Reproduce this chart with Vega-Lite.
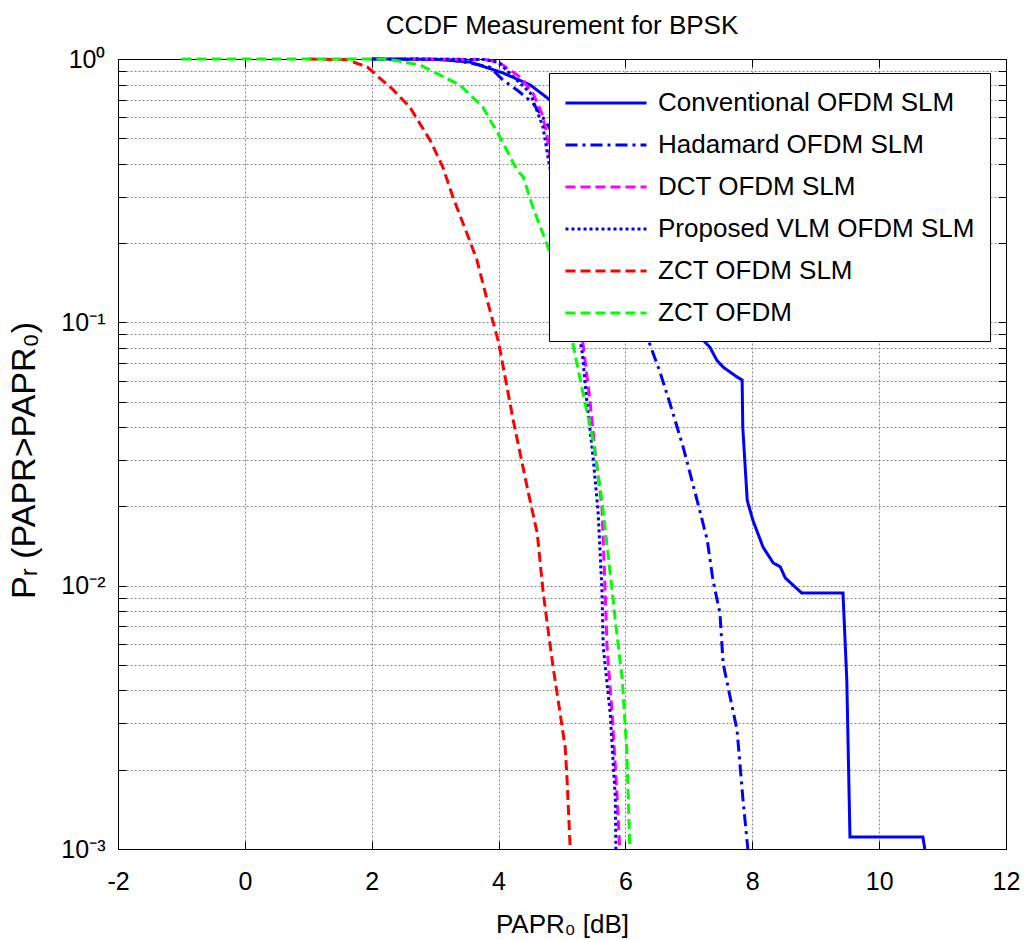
{
  "$schema": "https://vega.github.io/schema/vega-lite/v6.json",
  "width": 888,
  "height": 790,
  "autosize": {"type": "none"},
  "padding": {"left": 118, "top": 59, "right": 19, "bottom": 91},
  "background": "white",
  "title": {"text": "CCDF Measurement for BPSK", "font": "Liberation Sans", "fontSize": 26, "fontWeight": "normal", "color": "black", "anchor": "middle", "baseline": "alphabetic", "offset": 9, "dy": 22},
  "config": {
    "view": {"stroke": "black", "strokeWidth": 1},
    "axis": {
      "domainColor": "black", "domainWidth": 1, "tickColor": "black", "tickSize": -8,
      "labelFont": "Liberation Sans", "labelFontSize": 25, "labelColor": "black", "labelFlush": false, "labelOverlap": false,
      "titleFont": "Liberation Sans", "titleFontWeight": "normal", "titleColor": "black",
      "gridColor": "#555555", "gridDash": [2, 2], "gridOpacity": 0.7, "gridWidth": 1
    }
  },
  "data": {"values": [
    {"s": "Conventional OFDM SLM", "x": 2.0, "y": 1.0},
    {"s": "Conventional OFDM SLM", "x": 3.0, "y": 0.998},
    {"s": "Conventional OFDM SLM", "x": 3.55, "y": 0.974},
    {"s": "Conventional OFDM SLM", "x": 4.07, "y": 0.885},
    {"s": "Conventional OFDM SLM", "x": 4.5, "y": 0.797},
    {"s": "Conventional OFDM SLM", "x": 4.81, "y": 0.699},
    {"s": "Conventional OFDM SLM", "x": 5.5, "y": 0.45},
    {"s": "Conventional OFDM SLM", "x": 6.2, "y": 0.25},
    {"s": "Conventional OFDM SLM", "x": 6.8, "y": 0.13},
    {"s": "Conventional OFDM SLM", "x": 7.22, "y": 0.0857},
    {"s": "Conventional OFDM SLM", "x": 7.33, "y": 0.0806},
    {"s": "Conventional OFDM SLM", "x": 7.44, "y": 0.0719},
    {"s": "Conventional OFDM SLM", "x": 7.54, "y": 0.0676},
    {"s": "Conventional OFDM SLM", "x": 7.76, "y": 0.062},
    {"s": "Conventional OFDM SLM", "x": 7.84, "y": 0.0604},
    {"s": "Conventional OFDM SLM", "x": 7.85, "y": 0.040},
    {"s": "Conventional OFDM SLM", "x": 7.92, "y": 0.0211},
    {"s": "Conventional OFDM SLM", "x": 8.01, "y": 0.0177},
    {"s": "Conventional OFDM SLM", "x": 8.17, "y": 0.014},
    {"s": "Conventional OFDM SLM", "x": 8.33, "y": 0.0122},
    {"s": "Conventional OFDM SLM", "x": 8.44, "y": 0.0118},
    {"s": "Conventional OFDM SLM", "x": 8.52, "y": 0.0107},
    {"s": "Conventional OFDM SLM", "x": 8.78, "y": 0.00937},
    {"s": "Conventional OFDM SLM", "x": 9.43, "y": 0.00937},
    {"s": "Conventional OFDM SLM", "x": 9.49, "y": 0.00438},
    {"s": "Conventional OFDM SLM", "x": 9.54, "y": 0.00111},
    {"s": "Conventional OFDM SLM", "x": 10.69, "y": 0.00111},
    {"s": "Conventional OFDM SLM", "x": 10.72, "y": 0.001},

    {"s": "Hadamard OFDM SLM", "x": 2.0, "y": 1.0},
    {"s": "Hadamard OFDM SLM", "x": 3.2, "y": 0.995},
    {"s": "Hadamard OFDM SLM", "x": 3.5, "y": 0.97},
    {"s": "Hadamard OFDM SLM", "x": 3.86, "y": 0.932},
    {"s": "Hadamard OFDM SLM", "x": 4.07, "y": 0.832},
    {"s": "Hadamard OFDM SLM", "x": 4.29, "y": 0.763},
    {"s": "Hadamard OFDM SLM", "x": 4.54, "y": 0.681},
    {"s": "Hadamard OFDM SLM", "x": 4.76, "y": 0.571},
    {"s": "Hadamard OFDM SLM", "x": 5.3, "y": 0.33},
    {"s": "Hadamard OFDM SLM", "x": 5.9, "y": 0.16},
    {"s": "Hadamard OFDM SLM", "x": 6.36, "y": 0.0857},
    {"s": "Hadamard OFDM SLM", "x": 6.55, "y": 0.0642},
    {"s": "Hadamard OFDM SLM", "x": 6.7, "y": 0.0494},
    {"s": "Hadamard OFDM SLM", "x": 6.91, "y": 0.0336},
    {"s": "Hadamard OFDM SLM", "x": 7.13, "y": 0.0211},
    {"s": "Hadamard OFDM SLM", "x": 7.29, "y": 0.0149},
    {"s": "Hadamard OFDM SLM", "x": 7.38, "y": 0.0105},
    {"s": "Hadamard OFDM SLM", "x": 7.49, "y": 0.00787},
    {"s": "Hadamard OFDM SLM", "x": 7.54, "y": 0.00508},
    {"s": "Hadamard OFDM SLM", "x": 7.65, "y": 0.00378},
    {"s": "Hadamard OFDM SLM", "x": 7.76, "y": 0.00283},
    {"s": "Hadamard OFDM SLM", "x": 7.85, "y": 0.00157},
    {"s": "Hadamard OFDM SLM", "x": 7.93, "y": 0.001},

    {"s": "DCT OFDM SLM", "x": 2.6, "y": 1.0},
    {"s": "DCT OFDM SLM", "x": 3.8, "y": 0.995},
    {"s": "DCT OFDM SLM", "x": 4.02, "y": 0.966},
    {"s": "DCT OFDM SLM", "x": 4.34, "y": 0.854},
    {"s": "DCT OFDM SLM", "x": 4.54, "y": 0.743},
    {"s": "DCT OFDM SLM", "x": 4.68, "y": 0.623},
    {"s": "DCT OFDM SLM", "x": 4.76, "y": 0.524},
    {"s": "DCT OFDM SLM", "x": 4.79, "y": 0.451},
    {"s": "DCT OFDM SLM", "x": 4.95, "y": 0.28},
    {"s": "DCT OFDM SLM", "x": 5.15, "y": 0.14},
    {"s": "DCT OFDM SLM", "x": 5.33, "y": 0.0834},
    {"s": "DCT OFDM SLM", "x": 5.44, "y": 0.0507},
    {"s": "DCT OFDM SLM", "x": 5.52, "y": 0.0327},
    {"s": "DCT OFDM SLM", "x": 5.63, "y": 0.0199},
    {"s": "DCT OFDM SLM", "x": 5.68, "y": 0.0096},
    {"s": "DCT OFDM SLM", "x": 5.71, "y": 0.00585},
    {"s": "DCT OFDM SLM", "x": 5.79, "y": 0.00328},
    {"s": "DCT OFDM SLM", "x": 5.87, "y": 0.00157},
    {"s": "DCT OFDM SLM", "x": 5.91, "y": 0.001},

    {"s": "Proposed VLM OFDM SLM", "x": 2.6, "y": 1.0},
    {"s": "Proposed VLM OFDM SLM", "x": 3.8, "y": 0.995},
    {"s": "Proposed VLM OFDM SLM", "x": 4.0, "y": 0.97},
    {"s": "Proposed VLM OFDM SLM", "x": 4.5, "y": 0.743},
    {"s": "Proposed VLM OFDM SLM", "x": 4.7, "y": 0.552},
    {"s": "Proposed VLM OFDM SLM", "x": 4.78, "y": 0.424},
    {"s": "Proposed VLM OFDM SLM", "x": 4.95, "y": 0.25},
    {"s": "Proposed VLM OFDM SLM", "x": 5.15, "y": 0.13},
    {"s": "Proposed VLM OFDM SLM", "x": 5.32, "y": 0.0764},
    {"s": "Proposed VLM OFDM SLM", "x": 5.39, "y": 0.0507},
    {"s": "Proposed VLM OFDM SLM", "x": 5.49, "y": 0.0308},
    {"s": "Proposed VLM OFDM SLM", "x": 5.57, "y": 0.0189},
    {"s": "Proposed VLM OFDM SLM", "x": 5.63, "y": 0.0096},
    {"s": "Proposed VLM OFDM SLM", "x": 5.65, "y": 0.00585},
    {"s": "Proposed VLM OFDM SLM", "x": 5.76, "y": 0.00328},
    {"s": "Proposed VLM OFDM SLM", "x": 5.84, "y": 0.00157},
    {"s": "Proposed VLM OFDM SLM", "x": 5.85, "y": 0.001},

    {"s": "ZCT OFDM SLM", "x": 1.0, "y": 1.0},
    {"s": "ZCT OFDM SLM", "x": 1.6, "y": 0.995},
    {"s": "ZCT OFDM SLM", "x": 1.93, "y": 0.932},
    {"s": "ZCT OFDM SLM", "x": 2.34, "y": 0.763},
    {"s": "ZCT OFDM SLM", "x": 2.6, "y": 0.657},
    {"s": "ZCT OFDM SLM", "x": 2.92, "y": 0.492},
    {"s": "ZCT OFDM SLM", "x": 3.12, "y": 0.389},
    {"s": "ZCT OFDM SLM", "x": 3.28, "y": 0.299},
    {"s": "ZCT OFDM SLM", "x": 3.5, "y": 0.218},
    {"s": "ZCT OFDM SLM", "x": 3.66, "y": 0.172},
    {"s": "ZCT OFDM SLM", "x": 3.82, "y": 0.1215},
    {"s": "ZCT OFDM SLM", "x": 4.0, "y": 0.084},
    {"s": "ZCT OFDM SLM", "x": 4.23, "y": 0.0426},
    {"s": "ZCT OFDM SLM", "x": 4.45, "y": 0.0237},
    {"s": "ZCT OFDM SLM", "x": 4.61, "y": 0.0158},
    {"s": "ZCT OFDM SLM", "x": 4.7, "y": 0.0096},
    {"s": "ZCT OFDM SLM", "x": 4.76, "y": 0.0074},
    {"s": "ZCT OFDM SLM", "x": 4.86, "y": 0.0049},
    {"s": "ZCT OFDM SLM", "x": 4.97, "y": 0.00328},
    {"s": "ZCT OFDM SLM", "x": 5.05, "y": 0.00244},
    {"s": "ZCT OFDM SLM", "x": 5.08, "y": 0.00183},
    {"s": "ZCT OFDM SLM", "x": 5.13, "y": 0.001},

    {"s": "ZCT OFDM", "x": -1.0, "y": 1.0},
    {"s": "ZCT OFDM", "x": 2.2, "y": 1.0},
    {"s": "ZCT OFDM", "x": 2.4, "y": 0.985},
    {"s": "ZCT OFDM", "x": 2.76, "y": 0.949},
    {"s": "ZCT OFDM", "x": 3.39, "y": 0.797},
    {"s": "ZCT OFDM", "x": 3.75, "y": 0.657},
    {"s": "ZCT OFDM", "x": 4.02, "y": 0.506},
    {"s": "ZCT OFDM", "x": 4.29, "y": 0.379},
    {"s": "ZCT OFDM", "x": 4.39, "y": 0.356},
    {"s": "ZCT OFDM", "x": 4.54, "y": 0.274},
    {"s": "ZCT OFDM", "x": 4.78, "y": 0.193},
    {"s": "ZCT OFDM", "x": 5.05, "y": 0.105},
    {"s": "ZCT OFDM", "x": 5.17, "y": 0.0834},
    {"s": "ZCT OFDM", "x": 5.33, "y": 0.0539},
    {"s": "ZCT OFDM", "x": 5.49, "y": 0.0357},
    {"s": "ZCT OFDM", "x": 5.63, "y": 0.0211},
    {"s": "ZCT OFDM", "x": 5.79, "y": 0.0096},
    {"s": "ZCT OFDM", "x": 5.84, "y": 0.0074},
    {"s": "ZCT OFDM", "x": 5.95, "y": 0.0044},
    {"s": "ZCT OFDM", "x": 6.02, "y": 0.0024},
    {"s": "ZCT OFDM", "x": 6.07, "y": 0.001}
  ]},
  "layer": [
    {
      "mark": {"type": "line", "strokeWidth": 3, "clip": false},
      "encoding": {
        "x": {"field": "x", "type": "quantitative",
          "scale": {"domain": [-2, 12], "nice": false, "zero": false},
          "axis": {"values": [-2, 0, 2, 4, 6, 8, 10, 12], "grid": true, "labelPadding": 28,
            "labelExpr": "datum.value < 0 ? '-' + abs(datum.value) : '' + datum.value",
            "title": "PAPR₀ [dB]", "titleFontSize": 26, "titleY": 83, "titleBaseline": "alphabetic"}},
        "y": {"field": "y", "type": "quantitative",
          "scale": {"type": "log", "domain": [0.001, 1], "nice": false},
          "axis": {"values": [0.001, 0.002, 0.003, 0.004, 0.005, 0.006, 0.007, 0.008, 0.009, 0.01, 0.02, 0.03, 0.04, 0.05, 0.06, 0.07, 0.08, 0.09, 0.1, 0.2, 0.3, 0.4, 0.5, 0.6, 0.7, 0.8, 0.9, 1],
            "labelExpr": "datum.value == 1 ? '10⁰' : datum.value == 0.1 ? '10⁻¹' : datum.value == 0.01 ? '10⁻²' : datum.value == 0.001 ? '10⁻³' : ''",
            "grid": true, "labelPadding": 21, "labelBaseline": "middle",
            "title": "Pᵣ (PAPR>PAPR₀)", "titleFontSize": 34, "titleAngle": -90, "titleX": -84, "titleY": 401, "titleBaseline": "alphabetic", "titleAlign": "center"}},
        "color": {"field": "s", "type": "nominal",
          "scale": {"domain": ["Conventional OFDM SLM", "Hadamard OFDM SLM", "DCT OFDM SLM", "Proposed VLM OFDM SLM", "ZCT OFDM SLM", "ZCT OFDM"],
                    "range": ["#0000ff", "#0000ff", "#ff00ff", "#0000ff", "#ff0000", "#00ff00"]},
          "legend": {"title": null, "orient": "none", "legendX": 431, "legendY": 14, "fillColor": "white", "strokeColor": "black", "padding": 15,
            "labelFont": "Liberation Sans", "labelFontSize": 26, "labelColor": "black", "labelLimit": 600, "labelOffset": 64,
            "symbolType": "M-1,0H5", "symbolSize": 729, "symbolStrokeWidth": 3, "rowPadding": 14}},
        "strokeDash": {"field": "s", "type": "nominal",
          "scale": {"domain": ["Conventional OFDM SLM", "Hadamard OFDM SLM", "DCT OFDM SLM", "Proposed VLM OFDM SLM", "ZCT OFDM SLM", "ZCT OFDM"],
                    "range": [[1, 0], [12, 5, 3, 5], [10, 5], [3, 3], [10, 5], [10, 5]]}}
      }
    },
    {
      "mark": {"type": "line", "opacity": 0},
      "encoding": {
        "x": {"field": "x", "type": "quantitative",
          "axis": {"orient": "top", "values": [-2, 0, 2, 4, 6, 8, 10, 12], "labels": false, "grid": false, "title": null}},
        "y": {"field": "y", "type": "quantitative",
          "axis": {"orient": "right", "values": [0.001, 0.002, 0.003, 0.004, 0.005, 0.006, 0.007, 0.008, 0.009, 0.01, 0.02, 0.03, 0.04, 0.05, 0.06, 0.07, 0.08, 0.09, 0.1, 0.2, 0.3, 0.4, 0.5, 0.6, 0.7, 0.8, 0.9, 1], "labels": false, "grid": false, "title": null}}
      }
    }
  ],
  "resolve": {"axis": {"x": "independent", "y": "independent"}}
}
